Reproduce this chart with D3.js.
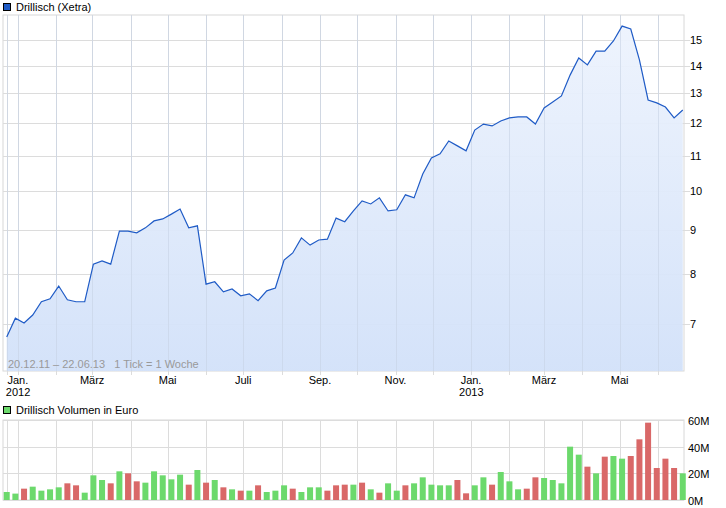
<!DOCTYPE html><html><head><meta charset="utf-8">
<script src="https://cdn.jsdelivr.net/npm/d3@7"></script>
<style>body{margin:0;background:#fff}text{font-family:"Liberation Sans",Arial,sans-serif;font-size:11px;white-space:pre}</style></head><body>
<svg id="c" width="726" height="508"></svg>
<script>
const startDate = "2011-12-23";
const prices = [6.76,7.11,7.02,7.17,7.43,7.49,7.75,7.47,7.43,7.43,8.22,8.29,8.22,8.98,8.98,8.94,9.06,9.23,9.28,9.40,9.53,9.06,9.11,7.79,7.84,7.63,7.69,7.55,7.59,7.45,7.65,7.71,8.31,8.47,8.82,8.65,8.77,8.79,9.30,9.21,9.48,9.74,9.66,9.82,9.48,9.51,9.90,9.82,10.47,10.93,11.05,11.44,11.29,11.14,11.78,11.97,11.91,12.07,12.17,12.20,12.20,11.97,12.50,12.70,12.91,13.65,14.29,14.03,14.56,14.56,14.96,15.57,15.45,14.22,12.77,12.67,12.53,12.17,12.43];
const volumes = [6,4.8,8.5,10,7,8,9.5,12.5,11,5.5,18.5,15,12.5,21.5,20,14,13,21.5,18.5,15.5,19,11.5,22.5,13,15,9.5,8,7,7,11,6,7,11,8.5,6,9.5,9.5,7,11,11.5,11.5,13,8,5.5,12.5,7,11,12.5,17,11.5,11,11,15,5,11,17,11.5,21,14,8,8.5,17,16.5,15,12.5,40,34,25,20,32.5,33,31,33,45.5,58,24,31,24,20];
const volColors = "ggrggggrrgggrgrrgggggrgrgrgrgrgggrgggrrrgrgrggrgggggrrggrgggrrgggggrgrggrrrrrrg";
const priceTicks = [7,8,9,10,11,12,13,14,15];
const volTicks = [0,20,40,60];
const monthNames = ["Jan.","Feb.","März","Apr.","Mai","Juni","Juli","Aug.","Sep.","Okt.","Nov.","Dez."];

const svg = d3.select("#c");
const t0 = d3.timeParse("%Y-%m-%d")(startDate);
const dates = prices.map((p,i)=>d3.timeDay.offset(t0, 7*i));
const x = d3.scaleTime().domain([new Date(2011,11,20), new Date(2013,5,22)]).range([3,684]);
const y = d3.scaleLog().domain([6.17,16.04]).range([371,15]);
const yv = d3.scaleLinear().domain([0,60]).range([500,420]);
const months = x.ticks(d3.timeMonth.every(1));
const grid = [dates[0]].concat(months);

const defs = svg.append("defs");
const g = defs.append("linearGradient").attr("id","gr").attr("x1",0).attr("x2",0).attr("y1",0).attr("y2",1);
g.append("stop").attr("offset","0").attr("stop-color","#edf3fd");
g.append("stop").attr("offset","1").attr("stop-color","#d2e1f9");
svg.append("rect").attr("x",3).attr("y",15).attr("width",681).attr("height",356).attr("fill","#fff").attr("stroke","#d8d8d8");
svg.append("g").selectAll("line").data(priceTicks).join("line").attr("x1",3).attr("x2",690).attr("y1",d=>Math.round(y(d))+.5).attr("y2",d=>Math.round(y(d))+.5).attr("stroke","#dcdcdc");
svg.append("g").selectAll("line").data(grid).join("line").attr("x1",d=>Math.round(x(d))+.5).attr("x2",d=>Math.round(x(d))+.5).attr("y1",15).attr("y2",375).attr("stroke","#dcdcdc");
svg.append("path").datum(prices).attr("fill","url(#gr)").attr("fill-opacity",0.95)
  .attr("d",d3.area().x((d,i)=>x(dates[i])).y0(371).y1(d=>y(d)));
svg.append("g").selectAll("line").data(grid).join("line").attr("x1",d=>Math.round(x(d))+.5).attr("x2",d=>Math.round(x(d))+.5).attr("y1",15).attr("y2",371).attr("stroke","#c8d4e6").attr("stroke-opacity",0.6);
svg.append("path").datum(prices).attr("fill","none").attr("stroke","#1f5bc6").attr("stroke-width",1.2)
  .attr("d",d3.line().x((d,i)=>x(dates[i])).y(d=>y(d)));
svg.append("g").selectAll("text").data(priceTicks).join("text").attr("x",690).attr("y",d=>y(d)+4).text(d=>d).attr("fill","#000");
svg.append("text").attr("x",8).attr("y",368).attr("fill","#999").text("20.12.11 – 22.06.13   1 Tick = 1 Woche");
const lab = months.filter(d=>d.getMonth()%2===0);
svg.append("g").selectAll("text").data(lab).join("text").attr("x",d=>x(d)).attr("y",384).attr("text-anchor","middle").text(d=>monthNames[d.getMonth()]);
svg.append("g").selectAll("text").data(lab.filter(d=>d.getMonth()===0)).join("text").attr("x",d=>x(d)-12).attr("y",396).text(d=>d.getFullYear());
svg.append("rect").attr("x",3.5).attr("y",3.5).attr("width",7).attr("height",7).attr("fill","#1f5bc6").attr("stroke","#000");
svg.append("text").attr("x",16).attr("y",11).text("Drillisch (Xetra)");
svg.append("rect").attr("x",3.5).attr("y",406.5).attr("width",7).attr("height",7).attr("fill","#6cd96c").attr("stroke","#000");
svg.append("text").attr("x",16).attr("y",414).text("Drillisch Volumen in Euro");
svg.append("rect").attr("x",3).attr("y",420).attr("width",681).attr("height",80).attr("fill","#fff").attr("stroke","#d8d8d8");
svg.append("g").selectAll("line").data(volTicks).join("line").attr("x1",3).attr("x2",684).attr("y1",d=>Math.round(yv(d))+.5).attr("y2",d=>Math.round(yv(d))+.5).attr("stroke","#dcdcdc");
svg.append("g").selectAll("line").data(grid).join("line").attr("x1",d=>Math.round(x(d))+.5).attr("x2",d=>Math.round(x(d))+.5).attr("y1",420).attr("y2",500).attr("stroke","#dcdcdc");
svg.append("g").selectAll("rect").data(volumes).join("rect").attr("x",(d,i)=>x(dates[i])-3).attr("width",6)
  .attr("y",d=>yv(d)).attr("height",d=>500-yv(d)).attr("fill",(d,i)=>volColors[i]==="g"?"#6cd96c":"#d96868");
svg.append("g").selectAll("text").data(volTicks).join("text").attr("x",688).attr("y",d=>yv(d)+5).text(d=>d+"M");
</script></body></html>
